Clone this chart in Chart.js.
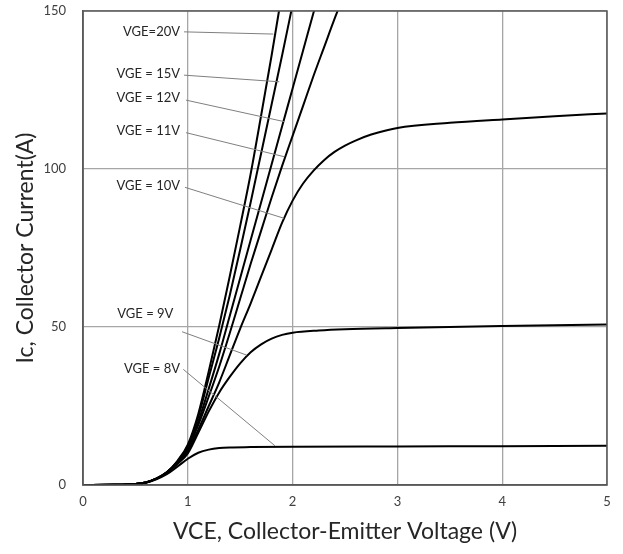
<!DOCTYPE html>
<html lang="en">
<head>
    <meta charset="UTF-8">
    <title>IGBT Output Characteristics</title>
    <script src="https://cdn.jsdelivr.net/npm/chart.js"></script>
    <style>
        body { margin: 0; padding: 0; background: #fff; }
        .chart-box { width: 623px; height: 554px; }
    </style>
</head>
<body>

<div class="chart-box">
    <canvas id="ivChart"></canvas>
</div>

<script>
    // tick values
    const vceTicks = [0, 1, 2, 3, 4, 5];
    const icTicks = [0, 50, 100, 150];

    // curve values (VCE in V, Ic in A)
    const vce20 = [0, 0.3, 0.5, 0.6, 0.7, 0.8, 0.9, 1.0, 1.1, 1.2, 1.3, 1.4, 1.5, 1.6, 1.7, 1.8, 1.9];
    const ic20  = [0, 0.05, 0.3, 0.8, 2.0, 4.0, 7.6, 12.8, 22.5, 36, 50.5, 66, 82, 98.5, 117, 136, 156];

    const vce15 = [0, 0.3, 0.5, 0.6, 0.7, 0.8, 0.9, 1.0, 1.1, 1.2, 1.3, 1.4, 1.5, 1.6, 1.7, 1.8, 1.9, 2.0];
    const ic15  = [0, 0.05, 0.3, 0.8, 2.0, 4.0, 7.4, 12.3, 21.5, 34, 46.5, 60, 74.5, 89.5, 105, 120.5, 136, 152];

    const vce12 = [0, 0.3, 0.5, 0.6, 0.7, 0.8, 0.9, 1.0, 1.1, 1.2, 1.3, 1.4, 1.5, 1.6, 1.7, 1.8, 1.9, 2.0, 2.1, 2.2, 2.3];
    const ic12  = [0, 0.05, 0.3, 0.8, 2.0, 4.0, 7.3, 11.8, 20, 30.5, 41.5, 53.5, 65.5, 77.5, 89.5, 101.5, 113.5, 125.5, 137.5, 149.5, 161];

    const vce11 = [0, 0.3, 0.5, 0.6, 0.7, 0.8, 0.9, 1.0, 1.1, 1.2, 1.3, 1.4, 1.5, 1.6, 1.7, 1.8, 1.9, 2.0, 2.1, 2.2, 2.3, 2.4, 2.5];
    const ic11  = [0, 0.05, 0.3, 0.8, 2.0, 4.0, 7.2, 11.5, 19, 28, 37.5, 48, 59, 70, 80.5, 91, 101, 110.5, 120, 129.5, 138.5, 147.5, 156];

    const vce10 = [0, 0.3, 0.5, 0.6, 0.7, 0.8, 0.9, 1.0, 1.1, 1.2, 1.3, 1.4, 1.5, 1.6, 1.7, 1.8, 1.9, 2.0, 2.1, 2.2, 2.3, 2.4, 2.5, 2.6, 2.75, 3.0, 3.5, 4.0, 4.5, 5.0];
    const ic10  = [0, 0.05, 0.3, 0.8, 2.0, 3.9, 6.9, 10.8, 17.5, 25, 32.5, 41, 49.5, 57.5, 66, 74.5, 83, 90, 95.4, 99.5, 102.8, 105.4, 107.4, 109, 110.9, 113.0, 114.6, 115.7, 116.7, 117.6];

    const vce9 = [0, 0.3, 0.5, 0.6, 0.7, 0.8, 0.9, 1.0, 1.1, 1.2, 1.3, 1.4, 1.5, 1.6, 1.7, 1.8, 1.9, 2.0, 2.25, 2.5, 3.0, 4.0, 5.0];
    const ic9  = [0, 0.05, 0.3, 0.8, 2.0, 3.8, 6.6, 10, 16.5, 23.3, 29.3, 34.2, 38.5, 42, 44.5, 46.3, 47.5, 48.2, 48.9, 49.3, 49.7, 50.3, 50.8];

    const vce8 = [0, 0.3, 0.5, 0.6, 0.7, 0.8, 0.9, 1.0, 1.1, 1.2, 1.3, 1.4, 1.6, 2.0, 3.0, 4.0, 5.0];
    const ic8  = [0, 0.05, 0.3, 0.7, 1.8, 3.4, 5.8, 8.3, 10.2, 11.2, 11.7, 11.9, 12.0, 12.1, 12.2, 12.3, 12.4];

    // curve names and where their callouts sit (data units)
    const curveNames = ['VGE=20V', 'VGE = 15V', 'VGE = 12V', 'VGE = 11V', 'VGE = 10V', 'VGE = 9V', 'VGE = 8V'];
    const labelAt   = [[0.926, 143.4], [0.926, 130.0], [0.926, 122.4], [0.926, 112.1], [0.926, 94.7], [0.862, 54.1], [0.926, 36.7]];
    const leaderFrom = [[0.964, 143.4], [0.964, 129.7], [0.983, 121.8], [0.983, 111.5], [0.973, 94.2], [0.945, 48.5], [0.957, 36.6]];
    const leaderTo   = [[1.816, 142.7], [1.873, 127.6], [1.918, 115.0], [1.918, 103.9], [1.918, 84.4], [1.562, 41.1], [1.832, 12.4]];

    const curves = [
        [vce20, ic20], [vce15, ic15], [vce12, ic12], [vce11, ic11],
        [vce10, ic10], [vce9, ic9], [vce8, ic8]
    ];

    const FONT = 'Lato, "Noto Sans", sans-serif';

    const datasets = curves.map(([xs, ys], i) => ({
        label: curveNames[i],
        data: xs.map((x, j) => ({ x: x, y: ys[j] })),
        borderColor: '#000',
        borderWidth: 2,
        pointRadius: 0,
        showLine: true,
        fill: false,
        cubicInterpolationMode: 'monotone',
        clip: 0
    }));

    const calloutPlugin = {
        id: 'callouts',
        afterDatasetsDraw(chart) {
            const { ctx, chartArea, scales: { x, y } } = chart;
            ctx.save();
            // leader lines
            ctx.strokeStyle = '#7f7f7f';
            ctx.lineWidth = 1;
            leaderFrom.forEach((p, i) => {
                ctx.beginPath();
                ctx.moveTo(x.getPixelForValue(p[0]), y.getPixelForValue(p[1]));
                ctx.lineTo(x.getPixelForValue(leaderTo[i][0]), y.getPixelForValue(leaderTo[i][1]));
                ctx.stroke();
            });
            // texts
            ctx.fillStyle = '#262626';
            ctx.font = '13px ' + FONT;
            ctx.textAlign = 'right';
            ctx.textBaseline = 'middle';
            labelAt.forEach((p, i) => {
                ctx.fillText(curveNames[i], x.getPixelForValue(p[0]), y.getPixelForValue(p[1]));
            });
            // plot frame
            ctx.strokeStyle = '#595959';
            ctx.lineWidth = 1.5;
            ctx.strokeRect(chartArea.left, chartArea.top, chartArea.right - chartArea.left, chartArea.bottom - chartArea.top);
            ctx.restore();
        }
    };

    new Chart(document.getElementById('ivChart'), {
        type: 'scatter',
        data: { datasets: datasets },
        options: {
            responsive: true,
            maintainAspectRatio: false,
            animation: false,
            layout: { padding: { top: 11, right: 16, left: 0, bottom: 0 } },
            plugins: {
                legend: { display: false },
                tooltip: { enabled: false }
            },
            scales: {
                x: {
                    type: 'linear',
                    min: vceTicks[0],
                    max: vceTicks[vceTicks.length - 1],
                    afterBuildTicks: (axis) => { axis.ticks = vceTicks.map(v => ({ value: v })); },
                    afterFit: (axis) => { axis.height = 69; },
                    ticks: { color: '#404040', font: { family: FONT, size: 13 }, padding: 9 },
                    grid: { color: '#a6a6a6', lineWidth: 1.3, drawTicks: false },
                    border: { color: '#595959', width: 1.5 },
                    title: {
                        display: true,
                        text: 'VCE, Collector-Emitter Voltage (V)',
                        color: '#262626',
                        font: { family: FONT, size: 23 },
                        padding: { top: 4, bottom: 9 }
                    }
                },
                y: {
                    type: 'linear',
                    min: icTicks[0],
                    max: icTicks[icTicks.length - 1],
                    afterBuildTicks: (axis) => { axis.ticks = icTicks.map(v => ({ value: v })); },
                    afterFit: (axis) => {
                        axis.width = 83;
                        axis.paddingTop = 11;
                        axis.paddingBottom = 0;
                    },
                    ticks: { color: '#404040', font: { family: FONT, size: 13 }, padding: 17 },
                    grid: { color: '#a6a6a6', lineWidth: 1.3, drawTicks: false },
                    border: { color: '#595959', width: 1.5 },
                    title: {
                        display: true,
                        text: 'Ic, Collector Current(A)',
                        color: '#262626',
                        font: { family: FONT, size: 23 },
                        padding: { top: 12, bottom: 4 }
                    }
                }
            }
        },
        plugins: [calloutPlugin]
    });
</script>

</body>
</html>
